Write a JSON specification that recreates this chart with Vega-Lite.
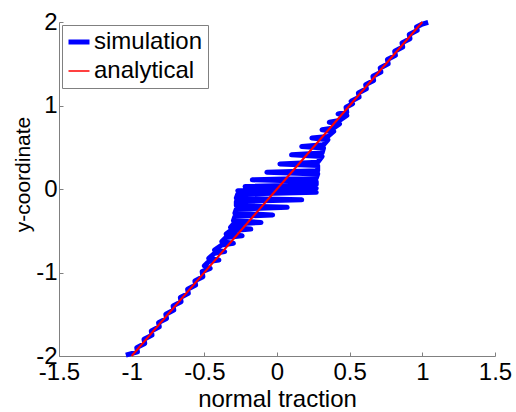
{
  "$schema": "https://vega.github.io/schema/vega-lite/v6.json",
  "width": 436,
  "height": 334,
  "autosize": {"type": "none"},
  "padding": {"left": 59, "top": 22, "right": 21, "bottom": 56},
  "background": "white",
  "config": {"view": {"stroke": null}, "font": "Liberation Sans"},
  "data": {"values": [
    {"s": "simulation", "x": -1.04, "y": -1.99},
    {"s": "simulation", "x": -0.96, "y": -1.95},
    {"s": "simulation", "x": -0.965, "y": -1.90},
    {"s": "simulation", "x": -0.91, "y": -1.85},
    {"s": "simulation", "x": -0.915, "y": -1.80},
    {"s": "simulation", "x": -0.86, "y": -1.75},
    {"s": "simulation", "x": -0.865, "y": -1.70},
    {"s": "simulation", "x": -0.81, "y": -1.65},
    {"s": "simulation", "x": -0.815, "y": -1.60},
    {"s": "simulation", "x": -0.76, "y": -1.55},
    {"s": "simulation", "x": -0.765, "y": -1.50},
    {"s": "simulation", "x": -0.71, "y": -1.45},
    {"s": "simulation", "x": -0.715, "y": -1.40},
    {"s": "simulation", "x": -0.66, "y": -1.35},
    {"s": "simulation", "x": -0.665, "y": -1.30},
    {"s": "simulation", "x": -0.61, "y": -1.25},
    {"s": "simulation", "x": -0.615, "y": -1.20},
    {"s": "simulation", "x": -0.56, "y": -1.15},
    {"s": "simulation", "x": -0.565, "y": -1.10},
    {"s": "simulation", "x": -0.51, "y": -1.05},
    {"s": "simulation", "x": -0.515, "y": -0.99},
    {"s": "simulation", "x": -0.46, "y": -0.95},
    {"s": "simulation", "x": -0.50, "y": -0.92},
    {"s": "simulation", "x": -0.47, "y": -0.87},
    {"s": "simulation", "x": -0.40, "y": -0.85},
    {"s": "simulation", "x": -0.47, "y": -0.83},
    {"s": "simulation", "x": -0.43, "y": -0.77},
    {"s": "simulation", "x": -0.36, "y": -0.75},
    {"s": "simulation", "x": -0.43, "y": -0.73},
    {"s": "simulation", "x": -0.38, "y": -0.67},
    {"s": "simulation", "x": -0.30, "y": -0.65},
    {"s": "simulation", "x": -0.38, "y": -0.63},
    {"s": "simulation", "x": -0.35, "y": -0.58},
    {"s": "simulation", "x": -0.24, "y": -0.56},
    {"s": "simulation", "x": -0.35, "y": -0.54},
    {"s": "simulation", "x": -0.32, "y": -0.50},
    {"s": "simulation", "x": -0.18, "y": -0.48},
    {"s": "simulation", "x": -0.32, "y": -0.46},
    {"s": "simulation", "x": -0.30, "y": -0.42},
    {"s": "simulation", "x": -0.11, "y": -0.40},
    {"s": "simulation", "x": -0.30, "y": -0.38},
    {"s": "simulation", "x": -0.29, "y": -0.33},
    {"s": "simulation", "x": -0.03, "y": -0.31},
    {"s": "simulation", "x": -0.29, "y": -0.29},
    {"s": "simulation", "x": -0.28, "y": -0.24},
    {"s": "simulation", "x": 0.07, "y": -0.22},
    {"s": "simulation", "x": -0.28, "y": -0.20},
    {"s": "simulation", "x": -0.28, "y": -0.15},
    {"s": "simulation", "x": 0.17, "y": -0.13},
    {"s": "simulation", "x": -0.28, "y": -0.11},
    {"s": "simulation", "x": -0.27, "y": -0.06},
    {"s": "simulation", "x": 0.27, "y": -0.04},
    {"s": "simulation", "x": -0.27, "y": -0.02},
    {"s": "simulation", "x": 0.27, "y": 0.01},
    {"s": "simulation", "x": -0.22, "y": 0.03},
    {"s": "simulation", "x": 0.27, "y": 0.05},
    {"s": "simulation", "x": 0.27, "y": 0.09},
    {"s": "simulation", "x": -0.17, "y": 0.11},
    {"s": "simulation", "x": 0.27, "y": 0.13},
    {"s": "simulation", "x": 0.28, "y": 0.18},
    {"s": "simulation", "x": -0.07, "y": 0.20},
    {"s": "simulation", "x": 0.28, "y": 0.22},
    {"s": "simulation", "x": 0.28, "y": 0.28},
    {"s": "simulation", "x": 0.02, "y": 0.30},
    {"s": "simulation", "x": 0.28, "y": 0.32},
    {"s": "simulation", "x": 0.31, "y": 0.39},
    {"s": "simulation", "x": 0.10, "y": 0.41},
    {"s": "simulation", "x": 0.31, "y": 0.43},
    {"s": "simulation", "x": 0.32, "y": 0.49},
    {"s": "simulation", "x": 0.17, "y": 0.51},
    {"s": "simulation", "x": 0.32, "y": 0.53},
    {"s": "simulation", "x": 0.35, "y": 0.59},
    {"s": "simulation", "x": 0.24, "y": 0.61},
    {"s": "simulation", "x": 0.35, "y": 0.63},
    {"s": "simulation", "x": 0.39, "y": 0.69},
    {"s": "simulation", "x": 0.31, "y": 0.71},
    {"s": "simulation", "x": 0.39, "y": 0.73},
    {"s": "simulation", "x": 0.43, "y": 0.78},
    {"s": "simulation", "x": 0.36, "y": 0.80},
    {"s": "simulation", "x": 0.43, "y": 0.82},
    {"s": "simulation", "x": 0.48, "y": 0.88},
    {"s": "simulation", "x": 0.42, "y": 0.90},
    {"s": "simulation", "x": 0.48, "y": 0.92},
    {"s": "simulation", "x": 0.475, "y": 0.98},
    {"s": "simulation", "x": 0.52, "y": 1.02},
    {"s": "simulation", "x": 0.51, "y": 1.05},
    {"s": "simulation", "x": 0.565, "y": 1.10},
    {"s": "simulation", "x": 0.56, "y": 1.15},
    {"s": "simulation", "x": 0.615, "y": 1.20},
    {"s": "simulation", "x": 0.61, "y": 1.25},
    {"s": "simulation", "x": 0.665, "y": 1.30},
    {"s": "simulation", "x": 0.66, "y": 1.35},
    {"s": "simulation", "x": 0.715, "y": 1.40},
    {"s": "simulation", "x": 0.71, "y": 1.45},
    {"s": "simulation", "x": 0.765, "y": 1.50},
    {"s": "simulation", "x": 0.76, "y": 1.55},
    {"s": "simulation", "x": 0.815, "y": 1.60},
    {"s": "simulation", "x": 0.81, "y": 1.65},
    {"s": "simulation", "x": 0.865, "y": 1.70},
    {"s": "simulation", "x": 0.86, "y": 1.75},
    {"s": "simulation", "x": 0.915, "y": 1.80},
    {"s": "simulation", "x": 0.91, "y": 1.85},
    {"s": "simulation", "x": 0.965, "y": 1.90},
    {"s": "simulation", "x": 0.96, "y": 1.94},
    {"s": "simulation", "x": 1.0, "y": 1.975},
    {"s": "simulation", "x": 1.04, "y": 1.995},
    {"s": "analytical", "x": -1.0, "y": -2.0},
    {"s": "analytical", "x": 0.0, "y": 0.0},
    {"s": "analytical", "x": 1.0, "y": 2.0}
  ]},
  "encoding": {
    "x": {
      "field": "x", "type": "quantitative",
      "scale": {"domain": [-1.5, 1.5], "nice": false, "zero": false},
      "axis": {
        "title": "normal traction",
        "values": [-1.5, -1, -0.5, 0, 0.5, 1, 1.5],
        "labelExpr": "'' + datum.value",
        "grid": false, "labelFlush": false, "labelOverlap": false,
        "domainColor": "#808080", "tickColor": "#808080",
        "tickSize": -4, "labelPadding": 8,
        "labelFontSize": 24, "labelColor": "black",
        "titleFontSize": 24, "titleFontWeight": "normal", "titleColor": "black",
        "titleX": 218, "titleY": 50, "titleBaseline": "alphabetic", "titleAlign": "center"
      }
    },
    "y": {
      "field": "y", "type": "quantitative",
      "scale": {"domain": [-2, 2], "nice": false, "zero": false},
      "axis": {
        "title": "y-coordinate",
        "values": [-2, -1, 0, 1, 2],
        "labelExpr": "'' + datum.value",
        "grid": false, "labelFlush": false, "labelOverlap": false,
        "domainColor": "#808080", "tickColor": "#808080",
        "tickSize": -4, "labelPadding": 6,
        "labelFontSize": 24, "labelColor": "black",
        "titleFontSize": 21, "titleFontWeight": "normal", "titleColor": "black",
        "titleX": -30, "titleY": 152, "titleAngle": 270,
        "titleBaseline": "alphabetic", "titleAlign": "center"
      }
    },
    "order": {"field": "y", "type": "quantitative"},
    "color": {
      "field": "s", "type": "nominal",
      "scale": {"domain": ["simulation", "analytical"], "range": ["#0000ff", "#ff0000"]},
      "legend": {
        "title": null, "orient": "top-left", "offset": 3, "padding": 5,
        "strokeColor": "#808080", "fillColor": "white",
        "labelFontSize": 24, "labelColor": "black", "labelOffset": 3,
        "symbolType": "stroke", "symbolSize": 441, "rowPadding": 5,
        "encode": {"symbols": {"update": {"strokeWidth": {"signal": "datum.value === 'simulation' ? 5 : 1.5"}}}}
      }
    }
  },
  "layer": [
    {"transform": [{"filter": "datum.s == 'simulation'"}], "mark": {"type": "line", "strokeWidth": 5, "strokeJoin": "round"}},
    {"transform": [{"filter": "datum.s == 'analytical'"}], "mark": {"type": "line", "strokeWidth": 2}}
  ]
}
